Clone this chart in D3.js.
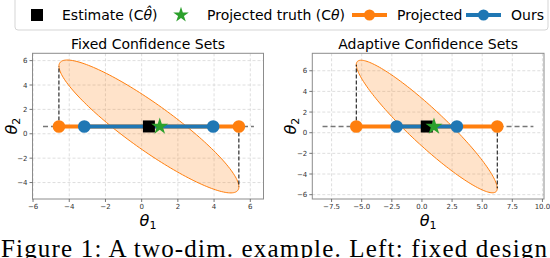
<!DOCTYPE html>
<html>
<head>
<meta charset="utf-8">
<script src="https://cdn.jsdelivr.net/npm/d3@7"></script>
<style>
    body { margin: 0; background: #fff; }
    svg { display: block; font-family: 'DejaVu Sans', sans-serif; }
</style>
</head>
<body>
<svg width="550" height="258"></svg>
<script>
// values
const panelTitles = ['Fixed Confidence Sets', 'Adaptive Confidence Sets'];
const estimate = [[0.4, 0.6], [0.4, 0.6]];
const truth = [[1.0, 0.6], [1.0, 0.6]];
const projected = [[-4.57, 5.37], [-5.45, 6.25]];
const ours = [[-3.17, 3.95], [-2.1, 2.9]];
const dashedSpan = [[-5.45, 6.2], [-8.25, 9.25]];
// ellipse shape: [s11, s12, s22]
const ellipseCov = [[24.7, -24.6, 29.7], [34.2, -35.0, 41.2]];
const xTicks = [[-6, -4, -2, 0, 2, 4, 6], [-7.5, -5, -2.5, 0, 2.5, 5, 7.5, 10]];
const yTicks = [[-4, -2, 0, 2, 4, 6], [-6, -4, -2, 0, 2, 4, 6]];
const xDomains = [[-6.03, 6.73], [-9.1, 10.13]];
const yDomains = [[-5.35, 6.6], [-6.42, 7.69]];
const legendLabels = ['Estimate (C', 'Projected truth (C', 'Projected', 'Ours'];
const caption = 'Figure 1: A two-dim. example. Left: fixed design';

const orange = '#ff7f0e';
const blue = '#1f77b4';
const green = '#2ca02c';

const svg = d3.select('svg');
const panelX = [[32.5, 263.5], [312.3, 544]];
const plotTop = 53.3;
const plotBottom = 199;

function ellipsePoints(c, cov) {
    const l11 = Math.sqrt(cov[0]);
    const l21 = cov[1] / l11;
    const l22 = Math.sqrt(cov[2] - l21 * l21);
    return d3.range(0, 361, 2).map((deg) => {
        const t = deg / 180 * Math.PI;
        return [c[0] + l11 * Math.cos(t), c[1] + l21 * Math.cos(t) + l22 * Math.sin(t)];
    });
}

function fmt(p, v) {
    const s = p === 0 ? d3.format('d')(v) : d3.format('.1f')(v);
    return s.replace('-', '\u2212');
}

panelTitles.forEach((title, p) => {
    const x = d3.scaleLinear().domain(xDomains[p]).range(panelX[p]);
    const y = d3.scaleLinear().domain(yDomains[p]).range([plotBottom, plotTop]);
    const g = svg.append('g');

    // grid
    g.selectAll('.gx').data(xTicks[p]).enter().append('line')
        .attr('x1', d => x(d)).attr('x2', d => x(d))
        .attr('y1', plotTop).attr('y2', plotBottom)
        .attr('stroke', '#d6d6d6').attr('stroke-width', 0.8).attr('stroke-dasharray', '3,2');
    g.selectAll('.gy').data(yTicks[p]).enter().append('line')
        .attr('y1', d => y(d)).attr('y2', d => y(d))
        .attr('x1', panelX[p][0]).attr('x2', panelX[p][1])
        .attr('stroke', '#d6d6d6').attr('stroke-width', 0.8).attr('stroke-dasharray', '3,2');

    // confidence ellipse
    const c = estimate[p];
    const cov = ellipseCov[p];
    g.append('path')
        .attr('d', d3.line().x(d => x(d[0])).y(d => y(d[1]))(ellipsePoints(c, cov)) + 'Z')
        .attr('fill', orange).attr('fill-opacity', 0.22)
        .attr('stroke', orange).attr('stroke-width', 1);

    // gray projection line
    g.append('line')
        .attr('x1', x(dashedSpan[p][0])).attr('x2', x(dashedSpan[p][1]))
        .attr('y1', y(c[1])).attr('y2', y(c[1]))
        .attr('stroke', '#777').attr('stroke-width', 1.5).attr('stroke-dasharray', '5,3');

    // black dashed verticals to the ellipse extremes
    const off = cov[1] / Math.sqrt(cov[0]);
    [[projected[p][0], c[1] - off], [projected[p][1], c[1] + off]].forEach((e) => {
        g.append('line')
            .attr('x1', x(e[0])).attr('x2', x(e[0]))
            .attr('y1', y(c[1])).attr('y2', y(e[1]))
            .attr('stroke', '#000').attr('stroke-width', 1).attr('stroke-dasharray', '4,2');
    });

    // intervals
    [[projected[p], orange], [ours[p], blue]].forEach(([iv, col]) => {
        g.append('line')
            .attr('x1', x(iv[0])).attr('x2', x(iv[1]))
            .attr('y1', y(c[1])).attr('y2', y(c[1]))
            .attr('stroke', col).attr('stroke-width', 4);
        g.selectAll(null).data(iv).enter().append('circle')
            .attr('cx', d => x(d)).attr('cy', y(c[1])).attr('r', 6.3)
            .attr('fill', col);
    });

    g.append('rect')
        .attr('x', x(c[0]) - 6).attr('y', y(c[1]) - 6)
        .attr('width', 12).attr('height', 12).attr('fill', '#000');
    g.append('path')
        .attr('d', d3.symbol(d3.symbolStar, 90)())
        .attr('transform', `translate(${x(truth[p][0])},${y(truth[p][1])})`)
        .attr('fill', green);

    // spines
    g.append('rect')
        .attr('x', panelX[p][0]).attr('y', plotTop)
        .attr('width', panelX[p][1] - panelX[p][0]).attr('height', plotBottom - plotTop)
        .attr('fill', 'none').attr('stroke', '#8c8c8c').attr('stroke-width', 1);

    // ticks
    g.selectAll('.tx').data(xTicks[p]).enter().append('line')
        .attr('x1', d => x(d)).attr('x2', d => x(d))
        .attr('y1', plotBottom).attr('y2', plotBottom + 3)
        .attr('stroke', '#555').attr('stroke-width', 0.8);
    g.selectAll('.lx').data(xTicks[p]).enter().append('text')
        .attr('x', d => x(d)).attr('y', plotBottom + 10)
        .attr('text-anchor', 'middle').attr('font-size', 7).attr('fill', '#333')
        .text(d => fmt(p, d));
    g.selectAll('.ty').data(yTicks[p]).enter().append('line')
        .attr('y1', d => y(d)).attr('y2', d => y(d))
        .attr('x1', panelX[p][0] - 3).attr('x2', panelX[p][0])
        .attr('stroke', '#555').attr('stroke-width', 0.8);
    g.selectAll('.ly').data(yTicks[p]).enter().append('text')
        .attr('x', panelX[p][0] - 5).attr('y', d => y(d) + 2.5)
        .attr('text-anchor', 'end').attr('font-size', 7).attr('fill', '#333')
        .text(d => fmt(0, d));

    // title and axis labels
    const cx = (panelX[p][0] + panelX[p][1]) / 2;
    g.append('text')
        .attr('x', cx).attr('y', 49)
        .attr('text-anchor', 'middle').attr('font-size', 14)
        .text(title);
    const xl = g.append('text')
        .attr('x', cx).attr('y', 226)
        .attr('text-anchor', 'middle').attr('font-size', 16);
    xl.append('tspan').attr('font-style', 'italic').text('θ');
    xl.append('tspan').attr('font-size', 11).attr('dy', 3).text('1');
    const yl = g.append('text')
        .attr('transform', `translate(${panelX[p][0] - 16},${(plotTop + plotBottom) / 2}) rotate(-90)`)
        .attr('text-anchor', 'middle').attr('font-size', 16);
    yl.append('tspan').attr('font-style', 'italic').text('θ');
    yl.append('tspan').attr('font-size', 11).attr('dy', 3).text('2');
});

// legend
const lg = svg.append('g');
lg.append('rect')
    .attr('x', 15).attr('y', -6).attr('width', 533).attr('height', 36).attr('rx', 3)
    .attr('fill', '#fff').attr('stroke', '#d5d5d5');
lg.append('rect').attr('x', 31).attr('y', 9).attr('width', 12).attr('height', 12).attr('fill', '#000');
const t1 = lg.append('text').attr('x', 62).attr('y', 20).attr('font-size', 14);
t1.append('tspan').text(legendLabels[0]);
t1.append('tspan').attr('font-style', 'italic').text('θ̂');
t1.append('tspan').text(')');
lg.append('path')
    .attr('d', d3.symbol(d3.symbolStar, 75)())
    .attr('transform', 'translate(181,15)').attr('fill', green);
const t2 = lg.append('text').attr('x', 207).attr('y', 20).attr('font-size', 14);
t2.append('tspan').text(legendLabels[1]);
t2.append('tspan').attr('font-style', 'italic').text('θ');
t2.append('tspan').text(')');
[[352, orange, legendLabels[2], 397], [466, blue, legendLabels[3], 511]].forEach(([lx, col, lab, tx]) => {
    lg.append('line').attr('x1', lx).attr('x2', lx + 35).attr('y1', 15).attr('y2', 15)
        .attr('stroke', col).attr('stroke-width', 4);
    lg.append('circle').attr('cx', lx + 17.5).attr('cy', 15).attr('r', 5.5).attr('fill', col);
    lg.append('text').attr('x', tx).attr('y', 20).attr('font-size', 14).text(lab);
});

// caption (cut at the bottom of the crop)
svg.append('text')
    .attr('x', 1).attr('y', 257)
    .attr('font-family', "'Liberation Serif', serif").attr('font-size', 25)
    .attr('textLength', 546).attr('lengthAdjust', 'spacing')
    .text(caption);
</script>
</body>
</html>
